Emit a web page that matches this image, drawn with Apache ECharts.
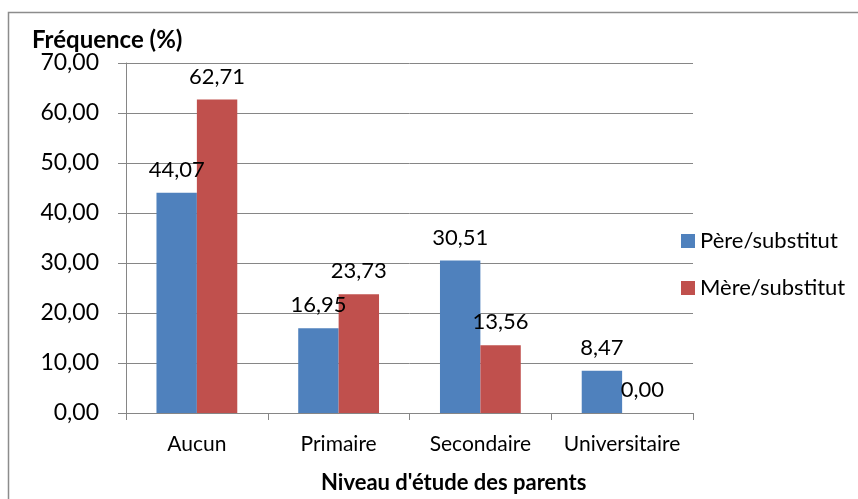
<!DOCTYPE html>
<html>
<head>
<meta charset="utf-8">
<script src="https://cdn.jsdelivr.net/npm/echarts@6/dist/echarts.min.js"></script>
<style>
html,body{margin:0;padding:0;background:#fff;}
#c{width:858px;height:499px;}
</style>
</head>
<body>
<div id="c"></div>
<script>
var categories = ['Aucun', 'Primaire', 'Secondaire', 'Universitaire'];
var pere = [44.07, 16.95, 30.51, 8.47];
var mere = [62.71, 23.73, 13.56, 0.00];
var seriesNames = ['Père/substitut', 'Mère/substitut'];
var yTitle = 'Fréquence (%)';
var xTitle = "Niveau d'étude des parents";

var FONT = 'Lato';
function fmt(v){ return Number(v).toFixed(2).replace('.', ','); }

var chart = echarts.init(document.getElementById('c'), null, {renderer:'canvas'});
var labelStyle = {
  show: true, position: 'top', distance: 12,
  color: '#000', fontFamily: FONT, fontSize: 22,
  formatter: function(p){ return fmt(p.value); }
};
chart.setOption({
  animation: false,
  backgroundColor: '#fff',
  graphic: [{
    type: 'rect', silent: true,
    shape: {x: 8.5, y: 12.5, width: 900, height: 600},
    style: {fill: 'none', stroke: '#8c8c8c', lineWidth: 1.5}
  }],
  title: [
    {text: yTitle, left: 27, top: 23, textStyle: {fontFamily: FONT, fontSize: 24, fontWeight: 'bold', color: '#000'}},
    {text: xTitle, left: 316, top: 467, textStyle: {fontFamily: FONT, fontSize: 22, fontWeight: 'bold', color: '#000'}}
  ],
  legend: {
    orient: 'vertical', left: 676, top: 225,
    itemWidth: 14, itemHeight: 14, itemGap: 25,
    icon: 'rect',
    textStyle: {fontFamily: FONT, fontSize: 22, color: '#000', lineHeight: 20},
    data: seriesNames
  },
  grid: {left: 126, right: 165, top: 63, bottom: 86},
  xAxis: {
    type: 'category', data: categories,
    axisLine: {lineStyle: {color: '#868686', width: 1}},
    axisTick: {show: true, length: 7, lineStyle: {color: '#868686'}},
    axisLabel: {color: '#000', fontFamily: FONT, fontSize: 21, margin: 21, interval: 0}
  },
  yAxis: {
    type: 'value', min: 0, max: 70, interval: 10,
    axisLine: {show: true, lineStyle: {color: '#868686', width: 1}},
    axisTick: {show: true, length: 8, lineStyle: {color: '#868686'}},
    splitLine: {lineStyle: {color: '#868686', width: 1}},
    axisLabel: {color: '#000', fontFamily: FONT, fontSize: 23, margin: 27, formatter: fmt}
  },
  series: [
    {name: seriesNames[0], type: 'bar', data: pere, barGap: '0%', barCategoryGap: '43%',
     itemStyle: {color: '#4F81BD'}, label: labelStyle},
    {name: seriesNames[1], type: 'bar', data: mere, barGap: '0%', barCategoryGap: '43%',
     itemStyle: {color: '#C0504D'}, label: labelStyle}
  ]
});
</script>
</body>
</html>
